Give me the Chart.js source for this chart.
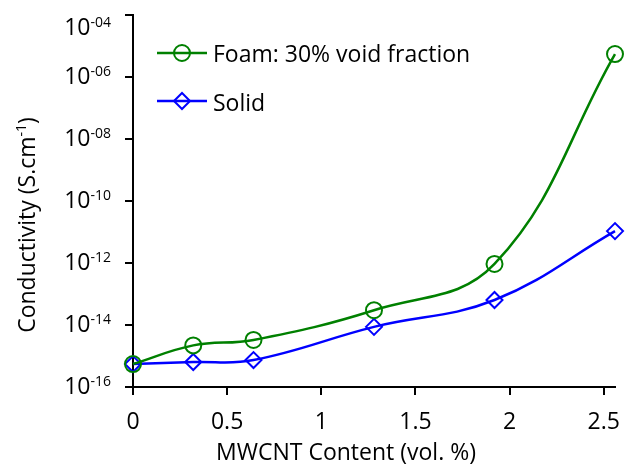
<!DOCTYPE html>
<html><head><meta charset="utf-8">
<script src="https://cdn.jsdelivr.net/npm/chart.js@4.4.1/dist/chart.umd.min.js"></script>
<style>html,body{margin:0;padding:0;background:#fff}#wrap{width:625px;height:467px}</style>
</head><body><div id="wrap"><canvas id="c" width="625" height="467"></canvas></div>
<script>
const contentVol = [0, 0.32, 0.64, 1.28, 1.92, 2.56];
const foamConductivity = [5.5e-16, 2.2e-15, 3.3e-15, 3.0e-14, 9.3e-13, 5.5e-6];
const solidConductivity = [5.5e-16, 6.4e-16, 7.4e-16, 8.7e-15, 6.4e-14, 1.07e-11];
const xTicks = [0, 0.5, 1, 1.5, 2, 2.5];
const yTickExponents = [-16, -14, -12, -10, -8, -6, -4];
const seriesNames = ['Foam: 30% void fraction', 'Solid'];
const xTitle = 'MWCNT Content (vol. %)';

const FONT = '"Open Sans", "Liberation Sans", sans-serif';
const GREEN = 'rgb(0,128,0)', BLUE = 'rgb(0,0,255)';
const BIG = '23px ' + FONT, SUP = '14px ' + FONT;

const overlay = {
  id: 'overlay',
  afterDraw(chart) {
    const ctx = chart.ctx, y = chart.scales.y, ca = chart.chartArea;
    ctx.save();
    ctx.fillStyle = '#000';
    ctx.textBaseline = 'alphabetic';
    ctx.textAlign = 'left';
    // y tick labels 10^-xx
    yTickExponents.forEach(e => {
      const py = y.getPixelForValue(Math.pow(10, e));
      const sup = (e < 0 ? '-' : '') + String(Math.abs(e)).padStart(2, '0');
      ctx.font = SUP;
      const sw = ctx.measureText(sup).width;
      ctx.font = BIG;
      const bw = ctx.measureText('10').width;
      const right = ca.left - 22;
      const base = Math.max(py + 7, 35);
      ctx.fillText('10', right - sw - bw, base);
      ctx.font = SUP;
      ctx.fillText(sup, right - sw, base - 8);
    });
    // x title
    ctx.font = BIG;
    ctx.textAlign = 'center';
    ctx.fillText(xTitle, 346, 460);
    // y title with superscript
    ctx.textAlign = 'left';
    ctx.translate(35, 225);
    ctx.rotate(-Math.PI / 2);
    const t1 = 'Conductivity (S.cm', t2 = '-1', t3 = ')';
    ctx.font = BIG;
    const w1 = ctx.measureText(t1).width, w3 = ctx.measureText(t3).width;
    ctx.font = SUP;
    const w2 = ctx.measureText(t2).width;
    const start = -(w1 + w2 + w3) / 2;
    ctx.font = BIG;
    ctx.fillText(t1, start, 0);
    ctx.font = SUP;
    ctx.fillText(t2, start + w1, -9);
    ctx.font = BIG;
    ctx.fillText(t3, start + w1 + w2, 0);
    ctx.restore();

    // legend
    ctx.save();
    chart.data.datasets.forEach((ds, i) => {
      const ly = 53 + i * 48;
      ctx.strokeStyle = ds.borderColor;
      ctx.lineWidth = ds.borderWidth;
      ctx.beginPath(); ctx.moveTo(157, ly); ctx.lineTo(207, ly); ctx.stroke();
      ctx.fillStyle = 'rgba(0,0,0,0)';
      ctx.lineWidth = ds.pointBorderWidth;
      Chart.helpers.drawPoint(ctx, {pointStyle: ds.pointStyle, radius: ds.pointRadius, borderWidth: ds.pointBorderWidth, rotation: 0}, 182, ly);
      ctx.fillStyle = '#000';
      ctx.font = BIG;
      ctx.textAlign = 'left';
      ctx.textBaseline = 'alphabetic';
      ctx.fillText(ds.label, 213, ly + 9 + i);
    });
    ctx.restore();
  }
};

const mk = (vals) => contentVol.map((x, i) => ({x, y: vals[i]}));

new Chart(document.getElementById('c'), {
  type: 'line',
  data: {
    datasets: [
      {label: seriesNames[0], data: mk(foamConductivity), borderColor: GREEN, backgroundColor: 'rgba(0,0,0,0)',
       borderWidth: 2.5, pointStyle: 'circle', pointRadius: 8, pointBorderWidth: 2, pointBackgroundColor: 'rgba(0,0,0,0)',
       pointBorderColor: GREEN, tension: 0.4, clip: false},
      {label: seriesNames[1], data: mk(solidConductivity), borderColor: BLUE, backgroundColor: 'rgba(0,0,0,0)',
       borderWidth: 2.5, pointStyle: 'rectRot', pointRadius: 8, pointBorderWidth: 2, pointBackgroundColor: 'rgba(0,0,0,0)',
       pointBorderColor: BLUE, tension: 0.4, clip: false}
    ]
  },
  options: {
    responsive: false, animation: false, devicePixelRatio: 1,
    layout: {padding: {left: 0, right: 9, top: 15, bottom: 0}},
    plugins: {legend: {display: false}, tooltip: {enabled: false}},
    scales: {
      x: {
        type: 'linear', min: 0, max: 2.56,
        afterBuildTicks: s => { s.ticks = xTicks.map(v => ({value: v})); },
        afterFit: s => { s.height = 80; s.paddingLeft = 0; s.paddingRight = 0; },
        border: {color: '#000', width: 2},
        grid: {display: true, drawOnChartArea: false, drawTicks: true, tickLength: 8, color: '#000', lineWidth: 2},
        ticks: {color: '#000', font: {size: 23, family: FONT}, padding: 14, maxRotation: 0,
                callback: v => String(v)},
        title: {display: false}
      },
      y: {
        type: 'logarithmic', min: 1e-16, max: 1e-4,
        afterBuildTicks: s => { s.ticks = yTickExponents.map(e => ({value: Math.pow(10, e)})); },
        afterFit: s => { s.width = 133; s.paddingTop = 0; s.paddingBottom = 0; },
        border: {color: '#000', width: 2},
        grid: {display: true, drawOnChartArea: false, drawTicks: true, tickLength: 8, color: '#000', lineWidth: 2},
        ticks: {display: false}
      }
    }
  },
  plugins: [overlay]
});
</script></body></html>
